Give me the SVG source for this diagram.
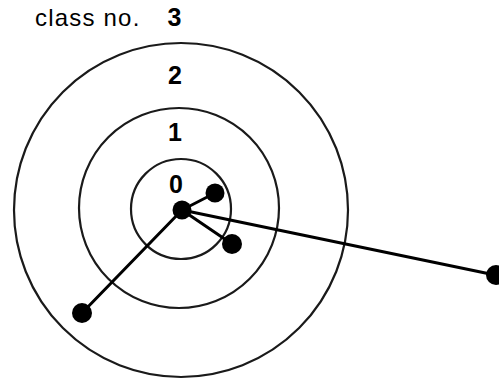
<svg xmlns="http://www.w3.org/2000/svg" width="499" height="381" viewBox="0 0 499 381">
<style>
.ring{fill:none;stroke:#1a1a1a;stroke-width:2.2}
.edge{stroke:#000;stroke-width:3;stroke-linecap:round}
.node{fill:#000}
.lbl{font-family:"Liberation Sans",Arial,sans-serif;font-size:24px;fill:#000}
.num{font-family:"Liberation Sans",Arial,sans-serif;font-size:25px;font-weight:bold;fill:#000;text-anchor:middle}
</style>
<rect width="499" height="381" fill="#fff"/>
<g id="rings">
<circle class="ring" cx="181" cy="210" r="167"/>
<circle class="ring" cx="179" cy="208" r="100"/>
<circle class="ring" cx="181" cy="209" r="50"/>
</g>
<g id="labels">
<text class="lbl" x="35" y="26" letter-spacing="1.2">class no.</text>
<text class="num" x="174.5" y="26">3</text>
<text class="num" x="175" y="84">2</text>
<text class="num" x="175" y="141">1</text>
<text class="num" x="176" y="193" font-weight="normal">0</text>
</g>
<g id="connectors">
<line class="edge" x1="182" y1="210" x2="215" y2="193"/>
<line class="edge" x1="182" y1="210" x2="232" y2="244"/>
<line class="edge" x1="182" y1="210" x2="82" y2="313"/>
<line class="edge" x1="182" y1="210" x2="495" y2="275"/>
</g>
<g id="n-center"><circle class="node" cx="182" cy="210" r="9.5"/></g>
<g id="n-a"><circle class="node" cx="215" cy="193" r="9.5"/></g>
<g id="n-b"><circle class="node" cx="232" cy="244" r="10"/></g>
<g id="n-c"><circle class="node" cx="82" cy="313" r="10"/></g>
<g id="n-d"><circle class="node" cx="496" cy="275" r="10"/></g>
</svg>
